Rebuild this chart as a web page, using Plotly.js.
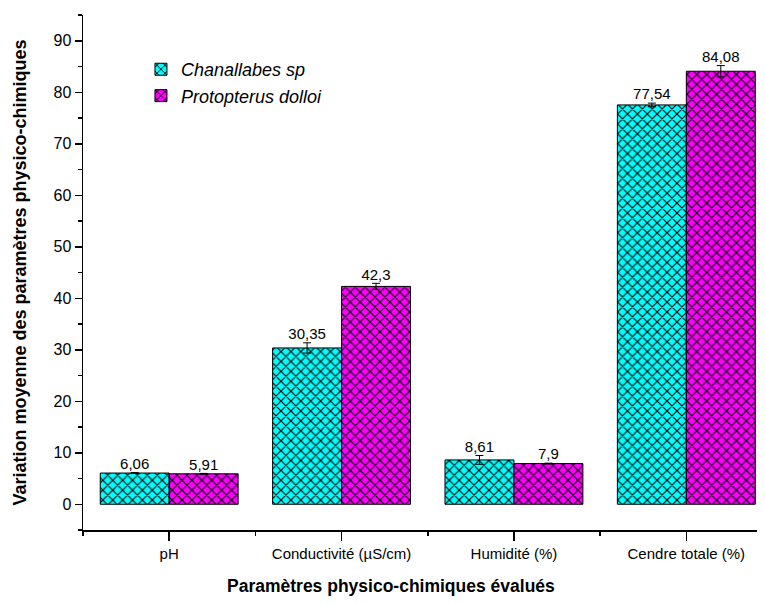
<!DOCTYPE html>
<html>
<head>
<meta charset="utf-8">
<script src="https://cdn.plot.ly/plotly-3.0.1.min.js"></script>
<style>html,body{margin:0;padding:0;background:#fff;}#chart{width:765px;height:604px;}</style>
</head>
<body>
<div id="chart"></div>
<script>
// ---- data ----
const categories = ['pH', 'Conductivité (µS/cm)', 'Humidité (%)', 'Cendre totale (%)'];
const seriesNames = ['Chanallabes sp', 'Protopterus dolloi'];
const chanallabes = [6.06, 30.35, 8.61, 77.54];
const protopterus = [5.91, 42.3, 7.9, 84.08];
const chanallabesErr = [0.08, 1.0, 0.85, 0.35];
const protopterusErr = [0.08, 0.6, 0.08, 1.1];
const chanallabesLabels = ['6,06', '30,35', '8,61', '77,54'];
const protopterusLabels = ['5,91', '42,3', '7,9', '84,08'];
const yTickVals = [0, 10, 20, 30, 40, 50, 60, 70, 80, 90];

// ---- build ----
const idx = categories.map((_, i) => i);
const barW = 0.4;
const font = 'Liberation Sans, Arial, sans-serif';

function barTrace(name, vals, errs, color, shift) {
  return {
    type: 'bar', name: name,
    x: idx.map(i => i + shift), y: vals, width: barW,
    marker: {
      color: color,
      line: {color: '#000', width: 1},
      pattern: {shape: 'x', bgcolor: color, fgcolor: '#000', size: 7, solidity: 0.3, fillmode: 'replace'}
    },
    error_y: {type: 'data', array: errs, visible: true, color: '#000', thickness: 1, width: 4}
  };
}
function labelTrace(vals, errs, labels, shift) {
  return {
    type: 'scatter', mode: 'text', showlegend: false, hoverinfo: 'skip',
    x: idx.map(i => i + shift), y: vals.map((v, i) => v + errs[i]),
    text: labels, textposition: 'top center',
    textfont: {family: font, size: 15, color: '#000'}
  };
}

const data = [
  barTrace(seriesNames[0], chanallabes, chanallabesErr, '#00FFFF', -barW / 2),
  barTrace(seriesNames[1], protopterus, protopterusErr, '#FF00FF', barW / 2),
  labelTrace(chanallabes, chanallabesErr, chanallabesLabels, -barW / 2),
  labelTrace(protopterus, protopterusErr, protopterusLabels, barW / 2)
];

const layout = {
  width: 765, height: 604,
  margin: {l: 83, r: 8, t: 15, b: 74},
  paper_bgcolor: '#fff', plot_bgcolor: '#fff',
  font: {family: font, color: '#000'},
  barmode: 'overlay',
  showlegend: true,
  legend: {
    x: 0.086, y: 0.93, xanchor: 'left', yanchor: 'top',
    font: {family: font, size: 18, style: 'italic'},
    bgcolor: 'rgba(0,0,0,0)', traceorder: 'normal'
  },
  xaxis: {
    range: [-0.5, 3.41], showgrid: false, zeroline: false,
    showline: true, linecolor: '#000', linewidth: 1.5,
    tickmode: 'array', tickvals: idx, ticktext: categories,
    ticks: 'outside', ticklen: 9, tickwidth: 1.5, tickcolor: '#000',
    tickfont: {family: font, size: 15},
    minor: {tickmode: 'array', tickvals: [-0.5, 0.5, 1.5, 2.5], ticks: 'outside', ticklen: 4, tickwidth: 1.5, tickcolor: '#000', showgrid: false}
  },
  yaxis: {
    range: [-5, 95], showgrid: false, zeroline: false,
    showline: true, linecolor: '#000', linewidth: 1.5,
    tickmode: 'array', tickvals: yTickVals,
    ticks: 'outside', ticklen: 7, tickwidth: 1.5, tickcolor: '#000',
    tickfont: {family: font, size: 16},
    minor: {dtick: 5, tick0: 0, ticks: 'outside', ticklen: 4, tickwidth: 1.5, tickcolor: '#000', showgrid: false},
    title: {text: 'Variation moyenne des paramètres physico-chimiques', font: {family: font, size: 18, weight: 'bold'}, standoff: 22}
  },
  annotations: [{
    xref: 'paper', yref: 'paper', x: 0.457, y: -0.085, yanchor: 'top', showarrow: false,
    text: 'Paramètres physico-chimiques évalués',
    font: {family: font, size: 17.5, weight: 'bold'}
  }]
};

Plotly.newPlot('chart', data, layout, {displayModeBar: false, staticPlot: true});
</script>
</body>
</html>
